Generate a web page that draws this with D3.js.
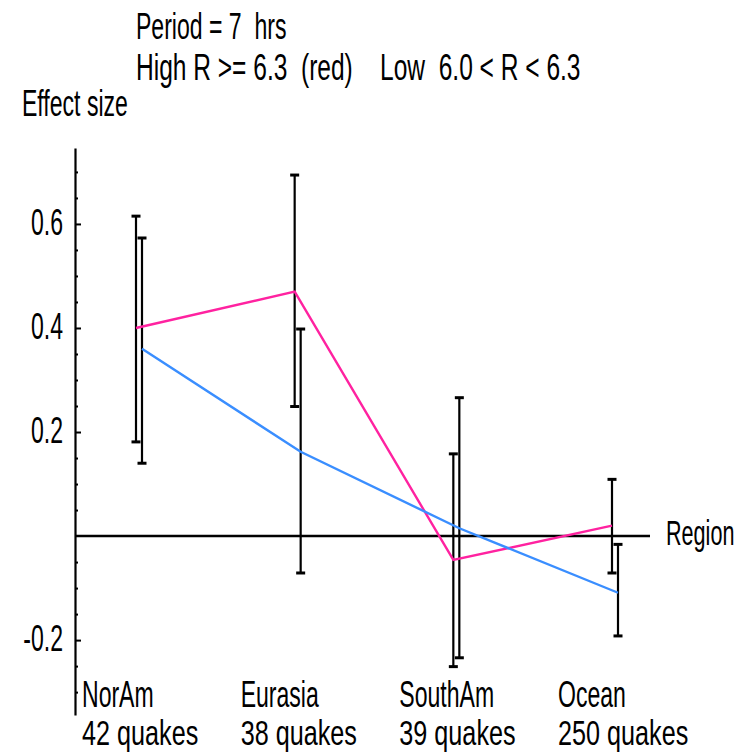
<!DOCTYPE html>
<html>
<head>
<meta charset="utf-8">
<script src="https://cdn.jsdelivr.net/npm/d3@7"></script>
<style>
  html, body { margin: 0; padding: 0; background: #fff; }
  svg { display: block; }
  text { font-family: "Liberation Sans", Arial, sans-serif; fill: #000; white-space: pre; }
</style>
</head>
<body>
<svg id="chart" width="746" height="754"></svg>
<script>
// Effect size by region - period 7 hrs
const regions = ['NorAm', 'Eurasia', 'SouthAm', 'Ocean'];
const quakeCounts = ['42 quakes', '38 quakes', '39 quakes', '250 quakes'];

// high R (red)
const highValues = [0.40, 0.47, -0.046, 0.02];
const highLow = [0.181, 0.249, -0.251, -0.071];
const highHigh = [0.615, 0.694, 0.158, 0.109];

// low R (blue)
const lowValues = [0.36, 0.162, 0.015, -0.109];
const lowLow = [0.140, -0.071, -0.234, -0.192];
const lowHigh = [0.573, 0.398, 0.266, -0.016];

const majorTicks = [-0.2, 0.2, 0.4, 0.6];
const minorTicks = [-0.3, -0.25, -0.15, -0.1, -0.05, 0.05, 0.1, 0.15, 0.25, 0.3, 0.35, 0.45, 0.5, 0.55, 0.65, 0.7];

const colors = { high: '#ff22a0', low: '#3a8eff' };
const FS = 36;   // font size
const K = 0.64;  // narrow font squeeze

const svg = d3.select('#chart');

const x = d3.scalePoint()
  .domain(regions)
  .range([136, 612]);

const y = d3.scaleLinear()
  .domain([-0.344, 0.746])
  .range([715, 148]);

// squeeze horizontally around the text's own anchor point
function squeeze(sel, k) {
  sel.each(function() {
    const t = d3.select(this);
    const tx = +t.attr('x') || 0;
    const ty = +t.attr('y') || 0;
    t.attr('x', 0).attr('y', 0)
      .attr('transform', `translate(${tx},${ty}) scale(${k},1)`);
  });
}

// Eje Y (menores)
svg.append('g')
  .attr('transform', 'translate(75,0)')
  .call(d3.axisLeft(y).tickValues(minorTicks).tickSize(-3).tickFormat(''))
  .call(g => g.select('.domain').remove())
  .selectAll('line').attr('stroke', '#000').attr('stroke-width', 2);

// Eje Y
const yAxis = svg.append('g')
  .attr('transform', 'translate(75,0)')
  .call(d3.axisLeft(y).tickValues(majorTicks).tickSize(-6).tickSizeOuter(0)
    .tickPadding(12).tickFormat(d => d.toFixed(1)));
yAxis.select('.domain').attr('stroke', '#000').attr('stroke-width', 2.2);
yAxis.selectAll('line').attr('stroke', '#000').attr('stroke-width', 2);
yAxis.selectAll('text')
  .attr('font-size', FS)
  .attr('fill', '#000')
  .attr('dy', '0.3em')
  .style('font-family', '"Liberation Sans", Arial, sans-serif')
  .call(squeeze, K);

// Eje X (linea en cero)
svg.append('line')
  .attr('x1', 75).attr('x2', 650)
  .attr('y1', y(0)).attr('y2', y(0))
  .attr('stroke', '#000').attr('stroke-width', 2.4);

svg.append('text')
  .attr('x', 666).attr('y', y(0) + 9)
  .attr('font-size', FS)
  .text('Region')
  .call(squeeze, 0.6);

// Barras de error
const series = [
  { key: 'high', off: 0, vals: highValues, lo: highLow, hi: highHigh },
  { key: 'low', off: 6, vals: lowValues, lo: lowLow, hi: lowHigh }
];

series.forEach(s => {
  const rows = regions.map((r, i) => ({ r, v: s.vals[i], lo: s.lo[i], hi: s.hi[i] }));
  const eb = svg.append('g').attr('stroke', '#000').attr('stroke-width', 2.2);
  eb.selectAll('.eb')
    .data(rows)
    .enter()
    .append('line')
    .attr('x1', d => x(d.r) + s.off).attr('x2', d => x(d.r) + s.off)
    .attr('y1', d => y(d.hi)).attr('y2', d => y(d.lo));
  ['hi', 'lo'].forEach(end => {
    eb.selectAll('.cap-' + end)
      .data(rows)
      .enter()
      .append('line')
      .attr('x1', d => x(d.r) + s.off - 4.5).attr('x2', d => x(d.r) + s.off + 4.5)
      .attr('y1', d => y(d[end])).attr('y2', d => y(d[end]))
      .attr('stroke-width', 3);
  });
});

// Lineas
series.forEach(s => {
  const rows = regions.map((r, i) => ({ r, v: s.vals[i] }));
  svg.append('path')
    .datum(rows)
    .attr('fill', 'none')
    .attr('stroke', colors[s.key])
    .attr('stroke-width', 2.4)
    .attr('d', d3.line().x(d => x(d.r) + s.off).y(d => y(d.v)));
});

// Etiquetas de categoria
const labels = svg.append('g').attr('font-size', FS);
labels.selectAll('.cat')
  .data(regions)
  .enter()
  .append('text')
  .attr('x', d => x(d) - 54)
  .attr('y', 707)
  .text(d => d)
  .call(squeeze, K);
labels.selectAll('.cnt')
  .data(quakeCounts)
  .enter()
  .append('text')
  .attr('x', (d, i) => x(regions[i]) - 54)
  .attr('y', 745)
  .text(d => d)
  .call(squeeze, 0.7);

// Titulos
svg.append('text')
  .attr('x', 136).attr('y', 39)
  .attr('font-size', FS)
  .text('Period = 7  hrs')
  .call(squeeze, K);
svg.append('text')
  .attr('x', 136).attr('y', 80)
  .attr('font-size', FS)
  .text('High R >= 6.3  (red)    Low  6.0 < R < 6.3')
  .call(squeeze, K * 1.065);
svg.append('text')
  .attr('x', 22).attr('y', 116)
  .attr('font-size', FS)
  .text('Effect size')
  .call(squeeze, K);
</script>
</body>
</html>
